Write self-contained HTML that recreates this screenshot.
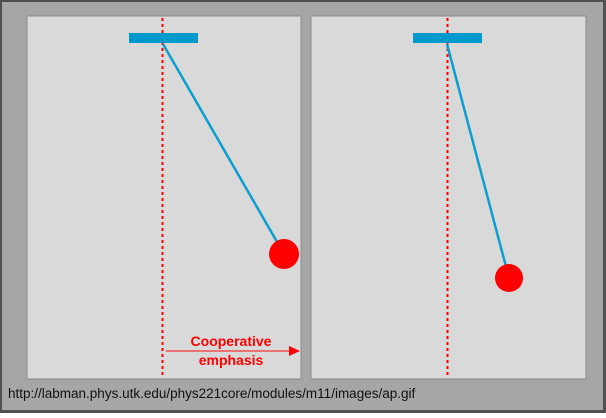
<!DOCTYPE html>
<html><head><style>body{margin:0}</style></head><body>
<svg width="606" height="413" xmlns="http://www.w3.org/2000/svg">
<rect x="0" y="0" width="606" height="413" fill="#505050"/>
<rect x="2" y="2" width="601" height="408" fill="#a6a6a6"/>
<rect x="27" y="16" width="274" height="363" fill="#d9d9d9" stroke="#8c8c8c" stroke-width="1"/>
<rect x="311" y="16" width="275" height="363" fill="#d9d9d9" stroke="#8c8c8c" stroke-width="1"/>
<line x1="162.5" y1="18" x2="162.5" y2="376" stroke="#f00" stroke-width="2" stroke-dasharray="3,3"/>
<line x1="447.5" y1="18" x2="447.5" y2="376" stroke="#f00" stroke-width="2" stroke-dasharray="3,3"/>
<line x1="163" y1="44" x2="284" y2="254" stroke="#0b9fd0" stroke-width="2.5"/>
<line x1="447" y1="44" x2="509" y2="278" stroke="#0b9fd0" stroke-width="2.5"/>
<rect x="129" y="33" width="69" height="10" fill="#0099cc"/>
<rect x="413" y="33" width="69" height="10" fill="#0099cc"/>
<circle cx="284" cy="254" r="15" fill="#ff0000"/>
<circle cx="509" cy="278" r="14" fill="#ff0000"/>
<line x1="166" y1="351" x2="290" y2="351" stroke="#f05050" stroke-width="1.5"/>
<polygon points="289,346 300,351 289,356" fill="#f00"/>
<text x="231" y="346" text-anchor="middle" font-family="Liberation Sans, sans-serif" font-weight="bold" font-size="14" fill="#f00">Cooperative</text>
<text x="231" y="365" text-anchor="middle" font-family="Liberation Sans, sans-serif" font-weight="bold" font-size="14" fill="#f00">emphasis</text>
<text x="8" y="398" font-family="Liberation Sans, sans-serif" font-size="13.5" fill="#111">http://labman.phys.utk.edu/phys221core/modules/m11/images/ap.gif</text>
</svg>
</body></html>
